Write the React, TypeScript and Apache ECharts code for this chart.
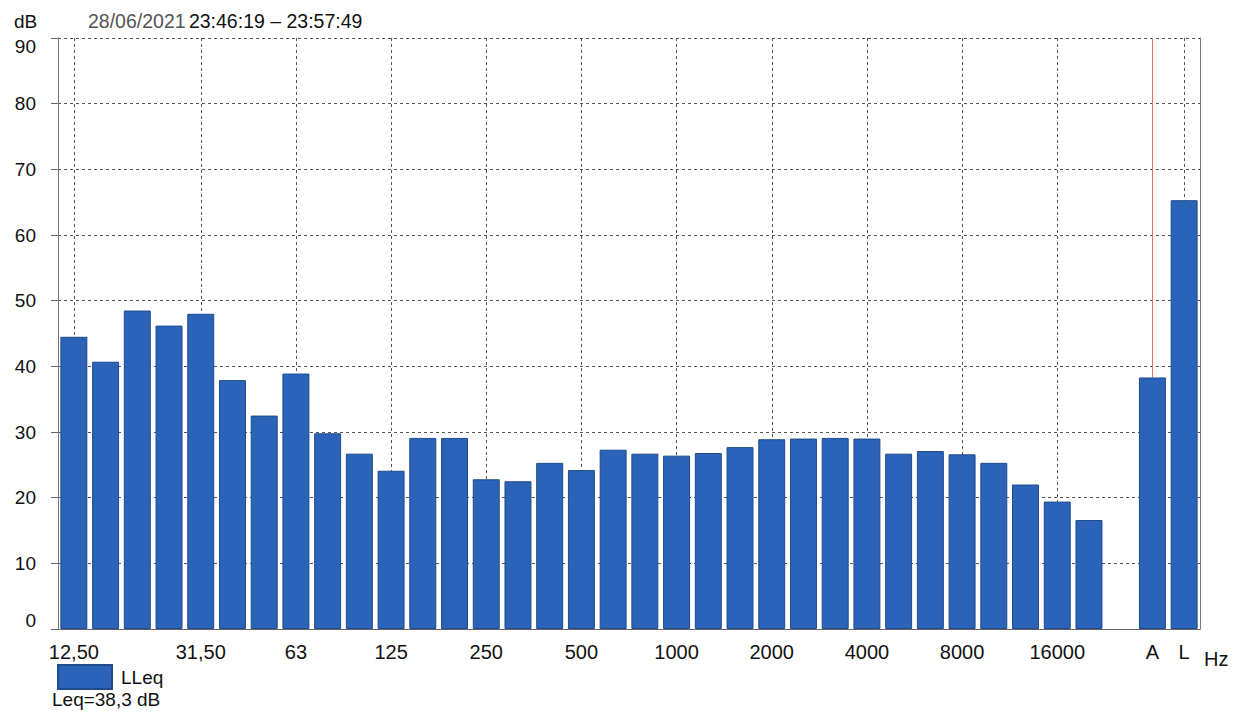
import React, { useEffect, useRef } from "react";
import * as echarts from "echarts";

const categories = ["12,50","16","20","25","31,50","40","50","63","80","100","125","160","200","250","315","400","500","630","800","1000","1250","1600","2000","2500","3150","4000","5000","6300","8000","10000","12500","16000","20000"," ","A","L"];
const levels = [44.5,40.7,48.5,46.2,48.0,37.9,32.5,38.9,29.8,26.7,24.1,29.1,29.1,22.8,22.5,25.3,24.2,27.3,26.7,26.4,26.8,27.7,28.9,29.0,29.1,29.0,26.7,27.1,26.6,25.3,22.0,19.4,16.6,null,38.3,65.3];
const shownLabels = ["12,50","31,50","63","125","250","500","1000","2000","4000","8000","16000","A","L"];
const gridCategories = ["12,50","31,50","63","125","250","500","1000","2000","4000","8000","16000","L"];
const markerCategory = "A";
const yTicks = [0,10,20,30,40,50,60,70,80,90];

const FONT = "'Liberation Sans', Arial, sans-serif";

export default function App() {
  const ref = useRef<HTMLDivElement>(null);
  useEffect(() => {
    if (!ref.current) return;
    const chart = echarts.init(ref.current, null, { renderer: "svg" });
    const yMin = yTicks[0];
    const yMax = yTicks[yTicks.length - 1];
    const markerIdx = categories.indexOf(markerCategory);
    const gridLines = gridCategories.map((c) => {
      const i = categories.indexOf(c);
      return [{ coord: [i, yMin] }, { coord: [i, yMax] }];
    });
    chart.setOption({
      animation: false,
      textStyle: { fontFamily: FONT },
      grid: { left: 58, right: 33, top: 38, bottom: 83, containLabel: false },
      legend: {
        left: 52,
        top: 659,
        itemWidth: 54,
        itemHeight: 24,
        icon: "rect",
        data: ["LLeq"],
        textStyle: { fontSize: 19, color: "#111", fontFamily: FONT, padding: [0, 0, 0, 4] },
      },
      xAxis: {
        type: "category",
        data: categories,
        axisLine: { show: true, lineStyle: { color: "#666", width: 1 } },
        axisTick: { show: false },
        splitLine: { show: false },
        axisLabel: {
          interval: 0,
          margin: 13,
          fontSize: 20,
          color: "#111",
          fontFamily: FONT,
          formatter: (v: string) => (shownLabels.includes(v) ? v : ""),
        },
      },
      yAxis: [
        {
          type: "value",
          min: yMin,
          max: yMax,
          interval: 10,
          axisLine: { show: true, lineStyle: { color: "#777", width: 1 } },
          axisTick: { show: true, length: 7, lineStyle: { color: "#666" } },
          splitLine: { show: true, lineStyle: { color: "#555", type: [3, 3], width: 1 } },
          axisLabel: {
            margin: 22,
            fontSize: 19,
            color: "#111",
            fontFamily: FONT,
            formatter: (v: number) =>
              v === yMax ? `{t|${v}}` : v === yMin ? `{b|${v}}` : `${v}`,
            rich: {
              t: { fontSize: 19, color: "#111", fontFamily: FONT, padding: [16, 0, 0, 0] },
              b: { fontSize: 19, color: "#111", fontFamily: FONT, padding: [0, 0, 18, 0] },
            },
          },
        },
        {
          type: "value",
          position: "right",
          min: yMin,
          max: yMax,
          interval: 10,
          axisLine: { show: true, lineStyle: { color: "#777", width: 1 } },
          axisTick: { show: false },
          axisLabel: { show: false },
          splitLine: { show: false },
        },
      ],
      series: [
        {
          type: "line",
          name: "grid",
          data: categories.map(() => null),
          showSymbol: false,
          silent: true,
          z: 1,
          markLine: {
            silent: true,
            z: 1,
            symbol: ["none", "none"],
            label: { show: false },
            lineStyle: { color: "#555", type: [3, 3], width: 1 },
            data: [
              ...gridLines,
              [
                { coord: [markerIdx, levels[markerIdx] as number], lineStyle: { color: "#e66a6a", type: "solid", width: 1 } },
                { coord: [markerIdx, yMax] },
              ],
            ],
          },
        },
        {
          type: "bar",
          name: "LLeq",
          data: levels,
          z: 3,
          barCategoryGap: "15%",
          itemStyle: { color: "#2a63b8", borderColor: "#1f4a8c", borderWidth: 1 },
        },
      ],
      graphic: [
        {
          type: "text",
          left: 14,
          top: 12,
          style: { text: "dB", fontSize: 19, fill: "#111", fontFamily: FONT },
        },
        {
          type: "text",
          left: 88,
          top: 11,
          style: {
            text: "{g|28/06/2021} {k|23:46:19 – 23:57:49}",
            fontFamily: FONT,
            rich: {
              g: { fontSize: 19.5, fill: "#555", fontFamily: FONT },
              k: { fontSize: 19.5, fill: "#111", fontFamily: FONT },
            },
          },
        },
        {
          type: "text",
          left: 1204,
          top: 649,
          style: { text: "Hz", fontSize: 20, fill: "#111", fontFamily: FONT },
        },
        {
          type: "text",
          left: 52,
          top: 690,
          style: { text: "Leq=38,3 dB", fontSize: 19, fill: "#111", fontFamily: FONT },
        },
      ],
    });
    return () => chart.dispose();
  }, []);
  return <div ref={ref} style={{ width: 1233, height: 712, position: "absolute", left: 0, top: 0 }} />;
}
